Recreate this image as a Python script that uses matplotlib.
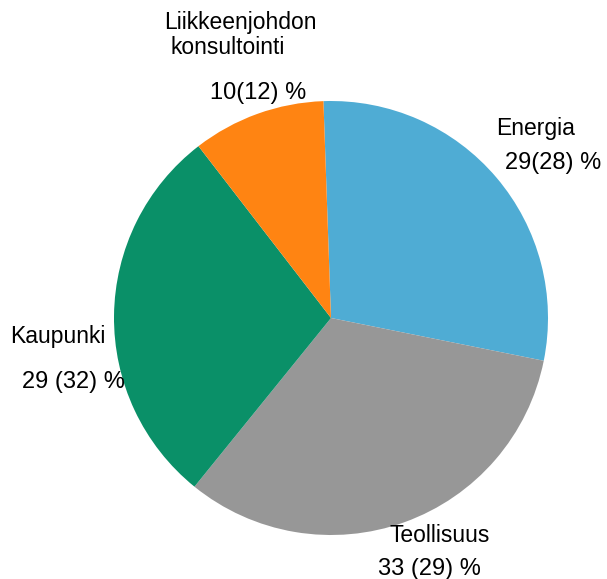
import matplotlib
matplotlib.use("Agg")
import matplotlib.pyplot as plt

categories = ["Energia", "Teollisuus", "Kaupunki", "Liikkeenjohdon\nkonsultointi"]
values = [29, 33, 29, 10]
prev_values = [28, 29, 32, 12]
colors = ["#4FACD4", "#979797", "#0A9068", "#FF8412"]
value_labels = ["29(28) %", "33 (29) %", "29 (32) %", "10(12) %"]

plt.rcParams['font.family'] = ['Liberation Sans', 'DejaVu Sans']

W, H = 607, 579
fig = plt.figure(figsize=(W/100, H/100), dpi=100)
cx, cy, r = 331, 318, 217
ax = fig.add_axes([(cx - r)/W, (H - cy - r)/H, 2*r/W, 2*r/H])
ax.pie(values, colors=colors, startangle=92, counterclock=False, radius=1,
       wedgeprops=dict(linewidth=0))
ax.set_xlim(-1, 1)
ax.set_ylim(-1, 1)
ax.set_aspect('equal')
ax.axis('off')

def px(x, y):
    return (x - cx)/r, (cy - y)/r

# label positions (left edge px, center y px) per text line
name_pos = [[(496, 128)], [(390, 536)], [(10, 336)], [(164, 22), (170, 48)]]
val_pos = [(505, 163), (378, 569), (22, 382), (210, 93)]
for i, cat in enumerate(categories):
    for line, pos in zip(cat.split("\n"), name_pos[i]):
        x, y = px(*pos)
        ax.text(x, y, line, ha='left', va='center', fontsize=16.5, clip_on=False)
    x, y = px(*val_pos[i])
    ax.text(x, y, value_labels[i], ha='left', va='center', fontsize=17, clip_on=False)

fig.savefig("out.png", dpi=100)
